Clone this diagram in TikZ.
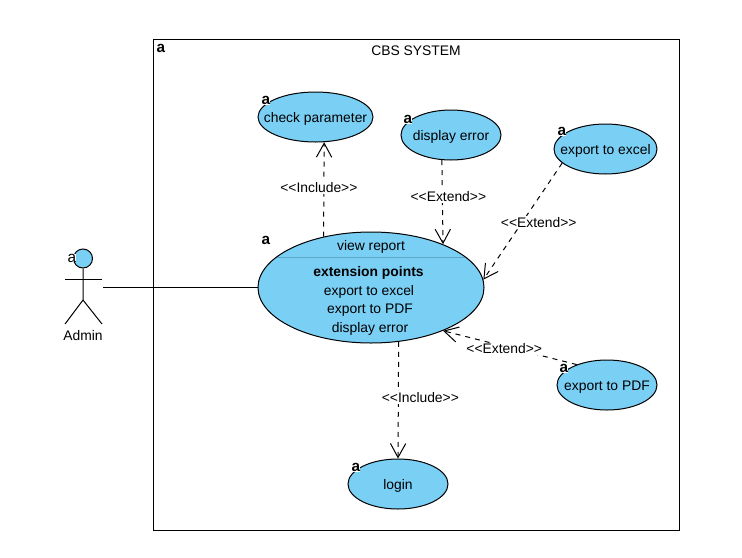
\documentclass[tikz,border=0pt]{standalone}
\usepackage{fontspec}
\setmainfont{Liberation Sans}
\usetikzlibrary{shapes.geometric,arrows.meta}
\definecolor{ucfill}{HTML}{7ACFF5}
\definecolor{divcol}{HTML}{5FA5C8}
\tikzset{
  x=0.75pt,y=-0.75pt,
  every node/.style={font=\fontsize{10.4}{12}\selectfont,text=black},
  uc/.style={ellipse,draw=black,fill=ucfill,line width=0.75pt,inner sep=0pt,minimum width=75pt,minimum height=37.5pt},
  plainline/.style={line width=0.75pt,draw=black},
  dep/.style={line width=0.75pt,draw=black,dash pattern=on 3.75pt off 3.75pt,-{Straight Barb[length=10.5pt,width=11.5pt,line width=0.75pt]}},
  deplabel/.style={fill=white,inner sep=1pt},
  tag/.style={font=\fontsize{11.5}{12}\selectfont\bfseries,fill=white,inner sep=0pt,text height=6.5pt,text depth=0pt},
  line/.style={inner sep=0pt}
}
\newcommand{\zw}[1]{\raisebox{-3.8pt}[0pt][0pt]{\makebox[0pt]{#1}}}
\begin{document}
\begin{tikzpicture}
\useasboundingbox (0,0) rectangle (742,557);
\fill[white] (0,0) rectangle (742,557);
% system
\node[draw=black,line width=0.7pt,minimum width=394.5pt,minimum height=368.25pt,inner sep=0pt] (sys) at (416,284.5) {};
\node[line] (systitle) at (416,51) {CBS SYSTEM};
\node[tag] (tagsys) at (161,48) {a};
% actor
\node[circle,draw=black,fill=ucfill,line width=0.75pt,minimum size=14.25pt,inner sep=0pt] (head) at (83,258.5) {};
\coordinate (hip) at (83,300);
\coordinate (armL) at (65,279);
\coordinate (armR) at (102,279);
\coordinate (legL) at (65,324);
\coordinate (legR) at (102,324);
\draw[plainline] (head.south) -- (hip) -- (legL);
\draw[plainline] (hip) -- (legR);
\draw[plainline] (armL) -- (armR);
\node[line] (admin) at (83,335.5) {Admin};
\node[minimum width=30pt,minimum height=57pt,inner sep=0pt] (actor) at (83,287.5) {};
\node[font=\fontsize{11.5}{12}\selectfont,fill=white,inner sep=0pt,text height=6.5pt,text depth=0pt] (tagactor) at (72,258) {a};
% use cases
\node[uc,minimum width=86.25pt] (check) at (315.5,117) {\zw{check parameter}};
\node[uc] (display) at (451,135) {\zw{display error}};
\node[uc,minimum width=77.25pt] (excel) at (605.5,149) {\zw{export to excel}};
\node[uc,minimum width=169.5pt,minimum height=83.25pt] (report) at (371,287.5) {};
\node[uc] (pdf) at (607,385) {\zw{export to PDF}};
\node[uc] (login) at (398,484) {\zw{login}};
% report compartments
\draw[divcol,line width=0.5pt] (report.center) ++(-94,-30.5) coordinate (divL) -- ++(188,0) coordinate (divR);
\node[line] (rtitle) at (371,247) {view report};
\node[line,font=\fontsize{10.4}{12}\selectfont\bfseries] (rext) at (368.5,273) {extension points};
\node[line] (rext1) at (369,292) {export to excel};
\node[line] (rext2) at (370,310) {export to PDF};
\node[line] (rext3) at (370,329) {display error};
% tags
\node[tag] (tagcheck) at (266,100.5) {a};
\node[tag] (tagdisplay) at (408,119.5) {a};
\node[tag] (tagexcel) at (562,131.5) {a};
\node[tag] (tagreport) at (266,240.5) {a};
\node[tag] (tagpdf) at (564,368.5) {a};
\node[tag] (taglogin) at (356,467.5) {a};
% connectors
\draw[plainline] (actor.east) -- (report.west);
\draw[dep] (report.133) -- node[deplabel,pos=0.52,xshift=-3.75pt] (lab1) {<{}<Include>{}>} (check.289);
\draw[dep] (display.250) -- node[deplabel,pos=0.43,xshift=4.5pt] (lab2) {<{}<Extend>{}>} (report.31);
\draw[dep] (excel.198) -- node[deplabel,pos=0.5,xshift=12pt,yshift=-0.75pt] (lab3) {<{}<Extend>{}>} (report.4);
\draw[dep] (pdf.146) -- node[deplabel,pos=0.55,xshift=0.75pt,yshift=-2.2pt] (lab4) {<{}<Extend>{}>} (report.-31);
\draw[dep] (report.-63.4) -- node[deplabel,pos=0.47,xshift=16.5pt,yshift=-0.75pt] (lab5) {<{}<Include>{}>} (login.north);
\end{tikzpicture}
\end{document}
